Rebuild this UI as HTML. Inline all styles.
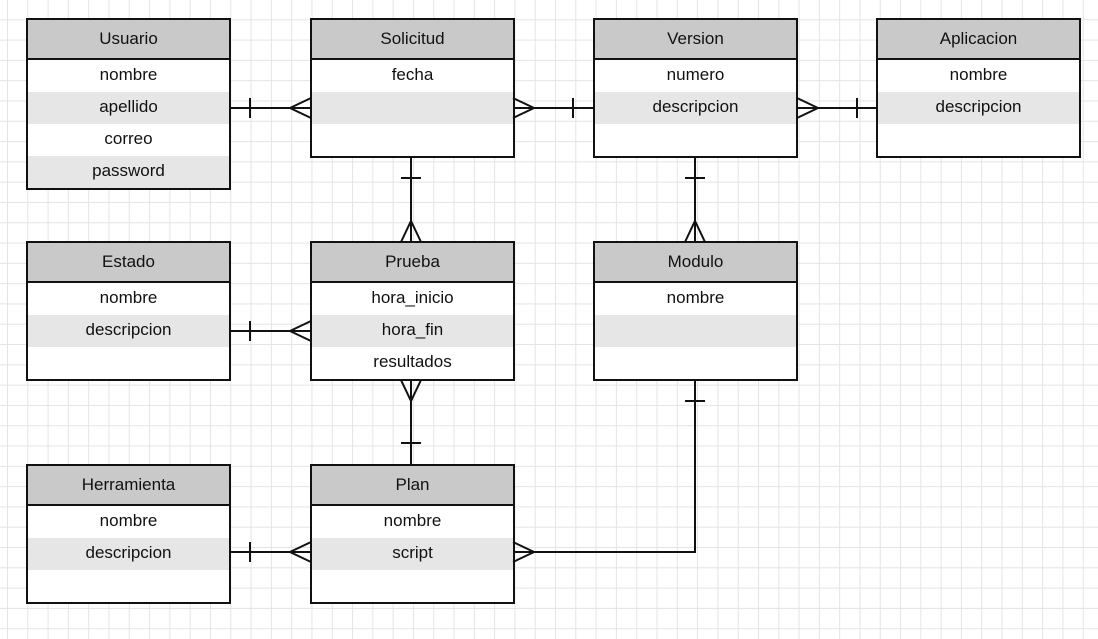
<!DOCTYPE html>
<html><head><meta charset="utf-8"><style>
body{margin:0;width:1098px;height:639px;overflow:hidden;background:#fff;
background-image:linear-gradient(#e4e4e4 1px,transparent 1px),linear-gradient(90deg,#e4e4e4 1px,transparent 1px);
background-size:20.3px 20.3px;background-position:7px -1px;font-family:"Liberation Sans",sans-serif;}
.e{position:absolute;width:201px;border:2px solid #111;background:#fff;box-sizing:content-box}
.h{height:38px;line-height:38px;background:#c9c9c9;border-bottom:2px solid #111;text-align:center;font-size:17px;color:#111}
.r{height:32px;line-height:30px;text-align:center;font-size:17px;color:#111}
.g{background:#e6e6e6}
svg{position:absolute;left:0;top:0}
</style></head><body>
<div class="e" style="left:26px;top:18px"><div class="h">Usuario</div><div class="r">nombre</div><div class="r g">apellido</div><div class="r">correo</div><div class="r g">password</div></div>
<div class="e" style="left:310px;top:18px"><div class="h">Solicitud</div><div class="r">fecha</div><div class="r g"></div><div class="r"></div></div>
<div class="e" style="left:593px;top:18px"><div class="h">Version</div><div class="r">numero</div><div class="r g">descripcion</div><div class="r"></div></div>
<div class="e" style="left:876px;top:18px"><div class="h">Aplicacion</div><div class="r">nombre</div><div class="r g">descripcion</div><div class="r"></div></div>
<div class="e" style="left:26px;top:241px"><div class="h">Estado</div><div class="r">nombre</div><div class="r g">descripcion</div><div class="r"></div></div>
<div class="e" style="left:310px;top:241px"><div class="h">Prueba</div><div class="r">hora_inicio</div><div class="r g">hora_fin</div><div class="r">resultados</div></div>
<div class="e" style="left:593px;top:241px"><div class="h">Modulo</div><div class="r">nombre</div><div class="r g"></div><div class="r"></div></div>
<div class="e" style="left:26px;top:464px"><div class="h">Herramienta</div><div class="r">nombre</div><div class="r g">descripcion</div><div class="r"></div></div>
<div class="e" style="left:310px;top:464px"><div class="h">Plan</div><div class="r">nombre</div><div class="r g">script</div><div class="r"></div></div>
<svg width="1098" height="639" fill="none" stroke="#111" stroke-width="2">
<path d="M230 108H311M250 98V118M311 98L290 108L311 118"/>
<path d="M513 108H594M573 98V118M513 98L534 108L513 118"/>
<path d="M797 108H878M857 98V118M797 98L818 108L797 118"/>
<path d="M411 157V242M401 178H421M401 242L411 221L421 242"/>
<path d="M695 157V242M685 178H705M685 242L695 221L705 242"/>
<path d="M230 331H311M250 321V341M311 321L290 331L311 341"/>
<path d="M411 380V465M401 443H421M401 380L411 401L421 380"/>
<path d="M230 552H311M250 542V562M311 542L290 552L311 562"/>
<path d="M695 380V552H513M685 401H705M513 542L534 552L513 562"/>
</svg>
</body></html>
